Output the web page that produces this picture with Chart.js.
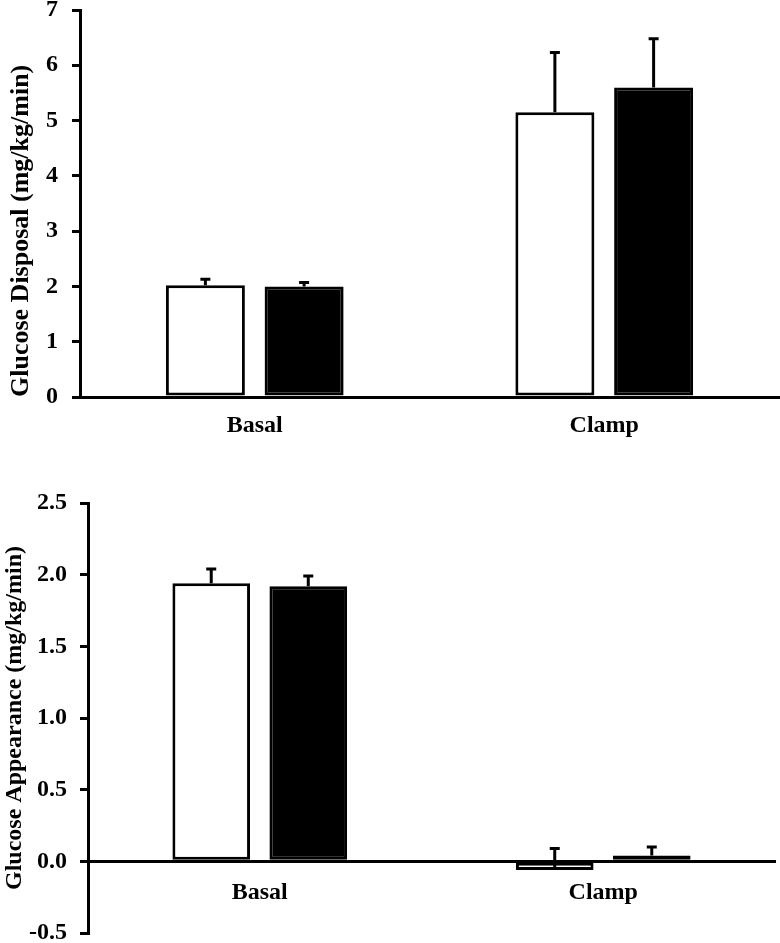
<!DOCTYPE html>
<html>
<head>
<meta charset="utf-8">
<script src="https://cdn.jsdelivr.net/npm/chart.js@4.4.1/dist/chart.umd.min.js"></script>
<style>
  html, body { margin: 0; padding: 0; background: #fff; overflow: hidden; }
  #wrap { position: relative; width: 780px; height: 943px; overflow: hidden; }
  .box { position: absolute; left: 0; width: 780px; }
  #top { top: -20px; height: 465px; }
  #bottom { top: 473px; height: 490px; }
</style>
</head>
<body>
<div id="wrap">
  <div class="box" id="top"><canvas id="disposalChart"></canvas></div>
  <div class="box" id="bottom"><canvas id="appearanceChart"></canvas></div>
</div>
<script>
// values
const categories = ['Basal', 'Clamp'];

const disposalOpen = [2.02, 5.15];
const disposalOpenErr = [0.11, 1.08];
const disposalFilled = [2.0, 5.6];
const disposalFilledErr = [0.07, 0.88];

const appearanceOpen = [1.94, -0.06];
const appearanceOpenErr = [0.10, 0.15];
const appearanceFilled = [1.92, 0.04];
const appearanceFilledErr = [0.07, 0.06];

const FONT = "'Liberation Serif', 'Times New Roman', serif";

// simple +SEM whiskers, always drawn upward from the bar value
const errorBars = {
    id: 'errorBars',
    afterDatasetsDraw(chart) {
        const ctx = chart.ctx;
        const yScale = chart.scales.y;
        ctx.save();
        ctx.strokeStyle = '#000';
        ctx.lineWidth = 3;
        chart.data.datasets.forEach((ds, i) => {
            const meta = chart.getDatasetMeta(i);
            meta.data.forEach((bar, j) => {
                const top = yScale.getPixelForValue(ds.data[j] + ds.errors[j]);
                ctx.beginPath();
                ctx.moveTo(bar.x, bar.y);
                ctx.lineTo(bar.x, top);
                ctx.moveTo(bar.x - 5, top);
                ctx.lineTo(bar.x + 5, top);
                ctx.stroke();
            });
        });
        ctx.restore();
    }
};

function makeChart(canvasId, open, openErr, filled, filledErr, cfg) {
    return new Chart(document.getElementById(canvasId), {
        type: 'bar',
        data: {
            labels: categories,
            datasets: [{
                label: 'open',
                data: open,
                errors: openErr,
                backgroundColor: '#fff',
                borderColor: '#000',
                borderWidth: 3,
                borderSkipped: false,
                categoryPercentage: 0.565,
                barPercentage: 0.8
            }, {
                label: 'filled',
                data: filled,
                errors: filledErr,
                backgroundColor: '#000',
                borderColor: '#000',
                borderWidth: 3,
                borderSkipped: false,
                categoryPercentage: 0.565,
                barPercentage: 0.8
            }]
        },
        options: {
            responsive: true,
            maintainAspectRatio: false,
            animation: false,
            layout: { padding: cfg.padding, autoPadding: false },
            plugins: {
                legend: { display: false },
                tooltip: { enabled: false }
            },
            scales: {
                x: {
                    position: { y: 0 },
                    grid: { display: false },
                    border: { display: true, color: '#000', width: 3 },
                    ticks: {
                        color: '#000',
                        padding: cfg.xPad,
                        font: { family: FONT, size: 24, weight: 'bold' }
                    }
                },
                y: {
                    min: cfg.min,
                    max: cfg.max,
                    afterFit: (s) => { s.width = cfg.axisWidth; },
                    grid: {
                        drawOnChartArea: false,
                        drawTicks: true,
                        tickLength: 8,
                        color: '#000',
                        lineWidth: 3
                    },
                    border: { display: true, color: '#000', width: 3 },
                    ticks: {
                        stepSize: cfg.step,
                        color: '#000',
                        padding: cfg.yPad,
                        font: { family: FONT, size: 24, weight: 'bold', lineHeight: 1 },
                        callback: cfg.fmt
                    },
                    title: {
                        display: true,
                        text: cfg.title,
                        align: cfg.titleAlign,
                        color: '#000',
                        padding: { top: cfg.titlePad, bottom: 0 },
                        font: { family: FONT, size: cfg.titleSize, weight: 'bold' }
                    }
                }
            }
        },
        plugins: [errorBars]
    });
}

makeChart('disposalChart', disposalOpen, disposalOpenErr, disposalFilled, disposalFilledErr, {
    padding: { top: 30, right: 1, bottom: 48, left: 0 },
    min: 0, max: 7, step: 1,
    fmt: (v) => v,
    axisWidth: 80,
    xPad: 6, yPad: 14,
    title: 'Glucose Disposal (mg/kg/min)',
    titleAlign: 'start',
    titleSize: 26,
    titlePad: 6
});

makeChart('appearanceChart', appearanceOpen, appearanceOpenErr, appearanceFilled, appearanceFilledErr, {
    padding: { top: 30, right: 5, bottom: 30, left: 0 },
    min: -0.5, max: 2.5, step: 0.5,
    fmt: (v) => v.toFixed(1),
    axisWidth: 88,
    xPad: 9, yPad: 13,
    title: 'Glucose Appearance (mg/kg/min)',
    titleAlign: 'center',
    titleSize: 24,
    titlePad: 0
});
</script>
</body>
</html>
